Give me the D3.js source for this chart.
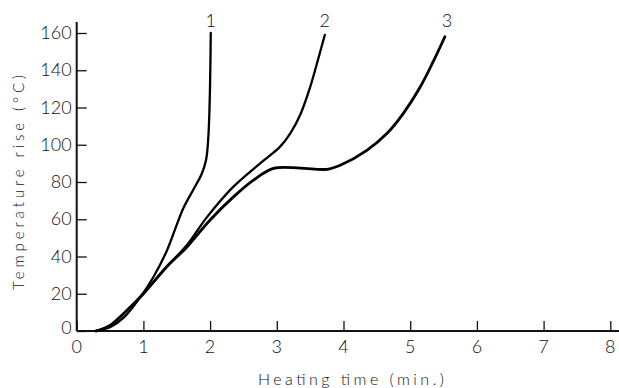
<!DOCTYPE html>
<html>
<head>
<meta charset="utf-8">
<script src="https://cdn.jsdelivr.net/npm/d3@7"></script>
<style>
  html, body { margin: 0; padding: 0; background: #fff; }
  svg { display: block; }
  text { font-family: "Lato", "DejaVu Sans", sans-serif; font-weight: 300; fill: #111; }
</style>
</head>
<body>
<svg id="chart" width="619" height="388"></svg>
<script>
// Heating time (min) vs temperature rise (°C) for three samples
const curve1Time = [0.28, 0.5, 0.7, 0.95, 1.15, 1.35, 1.5, 1.6, 1.75, 1.87, 1.94, 1.975, 1.995, 2.005, 2.01];
const curve1Temp = [0, 2, 7, 18, 29, 43, 57, 66, 76, 84, 92, 105, 125, 145, 160];

const curve2Time = [0.28, 0.5, 0.75, 1.0, 1.35, 1.65, 1.95, 2.35, 2.75, 3.05, 3.2, 3.35, 3.5, 3.62, 3.72];
const curve2Temp = [0, 3, 11, 20, 34.5, 46, 61, 77.5, 90, 99, 106, 116, 131, 146, 159];

const curve3Time = [0.3, 0.5, 0.75, 1.0, 1.35, 1.65, 2.0, 2.35, 2.65, 2.95, 3.35, 3.75, 3.95, 4.35, 4.65, 4.9, 5.15, 5.35, 5.52];
const curve3Temp = [0, 3, 11, 20, 34.5, 45, 59.6, 72, 81, 87.3, 87.5, 86.8, 89, 97, 106, 117, 131, 145, 158];

const curveLabels = ["1", "2", "3"];
const xTicks = [0, 1, 2, 3, 4, 5, 6, 7, 8];
const yTicks = [0, 20, 40, 60, 80, 100, 120, 140, 160];
const xTitle = "Heating time (min.)";
const yTitle = "Temperature rise (°C)";

const svg = d3.select("#chart");

const x = d3.scaleLinear().domain([0, 8]).range([76.7, 610.3]);
const y = d3.scaleLinear().domain([0, 160]).range([331, 33]);

// axes: ticks point inward, labels drawn separately
const xAxis = d3.axisTop(x).tickValues(xTicks).tickSize(10).tickFormat("");
const yAxis = d3.axisRight(y).tickValues(yTicks).tickSize(10).tickFormat("");

const gx = svg.append("g").attr("transform", `translate(0,${y(0)})`).call(xAxis);
gx.select(".domain").remove();
gx.selectAll(".tick line").attr("stroke", "#111").attr("stroke-width", 1.3);

const gy = svg.append("g").attr("transform", `translate(${x(0)},0)`).call(yAxis);
gy.select(".domain").remove();
gy.selectAll(".tick line").attr("stroke", "#111").attr("stroke-width", 1.3);

// axis lines
svg.append("line")
  .attr("x1", x(0)).attr("x2", 619)
  .attr("y1", y(0)).attr("y2", y(0))
  .attr("stroke", "#111").attr("stroke-width", 2);
svg.append("line")
  .attr("x1", x(0)).attr("x2", x(0))
  .attr("y1", y(0)).attr("y2", 22)
  .attr("stroke", "#111").attr("stroke-width", 2);

// tick labels
svg.append("g").selectAll("text").data(xTicks).join("text")
  .attr("x", d => x(d))
  .attr("y", y(0) + 22)
  .attr("text-anchor", "middle")
  .attr("font-size", 18)
  .text(d => d);

svg.append("g").selectAll("text").data(yTicks).join("text")
  .attr("x", x(0) - 5)
  .attr("y", d => d === 0 ? y(d) + 3 : y(d) + 6)
  .attr("text-anchor", "end")
  .attr("font-size", 18)
  .text(d => d);

// axis titles
svg.append("text")
  .attr("x", 258).attr("y", 385)
  .attr("font-size", 16)
  .attr("textLength", 186)
  .attr("lengthAdjust", "spacing")
  .text(xTitle);

svg.append("text")
  .attr("transform", "translate(24,290) rotate(-90)")
  .attr("font-size", 15)
  .attr("textLength", 215)
  .attr("lengthAdjust", "spacing")
  .text(yTitle);

// curves
const series = [
  { t: curve1Time, v: curve1Temp, w: 2.3 },
  { t: curve2Time, v: curve2Temp, w: 2.3 },
  { t: curve3Time, v: curve3Temp, w: 2.8 }
];

const line = d3.line()
  .x(d => x(d[0]))
  .y(d => y(d[1]))
  .curve(d3.curveCatmullRom.alpha(0.5));

svg.append("g").selectAll("path").data(series).join("path")
  .attr("d", s => line(s.t.map((t, i) => [t, s.v[i]])))
  .attr("fill", "none")
  .attr("stroke", "#000")
  .attr("stroke-width", s => s.w)
  .attr("stroke-linecap", "round");

// curve number labels at the top of each curve
svg.append("g").selectAll("text").data(series).join("text")
  .attr("x", (s, i) => x(s.t[s.t.length - 1]) + (i === 2 ? 2 : 0))
  .attr("y", 27)
  .attr("text-anchor", "middle")
  .attr("font-size", 18)
  .text((s, i) => curveLabels[i]);
</script>
</body>
</html>
